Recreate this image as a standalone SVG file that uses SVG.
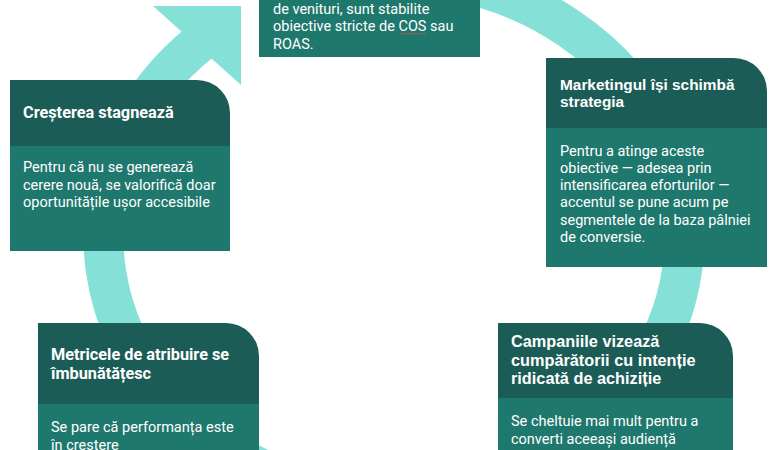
<svg xmlns="http://www.w3.org/2000/svg" width="779" height="450" viewBox="0 0 779 450">
<style>
.hd{fill:#1c5c56}
.bd{fill:#1f786d}
.t{fill:#ffffff;font-family:Roboto,"Liberation Sans",sans-serif;font-weight:700;font-size:16.3px}
.ta{fill:#ffffff;font-family:"Liberation Sans",Arial,sans-serif;font-weight:700}
.b{fill:#ffffff;font-family:Roboto,"Liberation Sans",sans-serif;font-size:14.5px}
.ring{fill:none;stroke:#85e1d7;stroke-width:40}
</style>
<rect width="779" height="450" fill="#ffffff"/>
<g id="connectors">
<path class="ring" d="M300,-10.4 A290.5,261 0 1 1 201.7,40.9"/>
<polygon points="241,6 153,6 241,85" fill="#85e1d7"/>
</g>
<g id="node-obiective">
<rect class="bd" x="259" y="-20" width="221" height="77"/>
<text class="b" x="273"><tspan x="273" y="13.5">de venituri, sunt stabilite</tspan><tspan x="273" y="31">obiective stricte de COS sau</tspan><tspan x="273" y="48.5">ROAS.</tspan></text>
<path d="M400,33 l1.6,1.4 l1.6,-1.4 l1.6,1.4 l1.6,-1.4 l1.6,1.4 l1.6,-1.4 l1.6,1.4 l1.6,-1.4 l1.6,1.4 l1.6,-1.4 l1.6,1.4 l1.6,-1.4 l1.6,1.4 l1.6,-1.4 l1.6,1.4 l1.6,-1.4" fill="none" stroke="#d9534f" stroke-width="0.8"/>
</g>
<g id="node-crestere">
<path class="hd" d="M10,80 H197 A33,33 0 0 1 230,113 V146 H10 Z"/>
<rect class="bd" x="10" y="146" width="220" height="105"/>
<text class="t" x="23" y="118">Creșterea stagnează</text>
<text class="b"><tspan x="23" y="172">Pentru că nu se generează</tspan><tspan x="23" y="189.5">cerere nouă, se valorifică doar</tspan><tspan x="23" y="207">oportunitățile ușor accesibile</tspan></text>
</g>
<g id="node-marketing">
<path class="hd" d="M546,58 H734 A33,33 0 0 1 767,91 V128 H546 Z"/>
<rect class="bd" x="546" y="128" width="221" height="139"/>
<text class="ta" font-size="15.4"><tspan x="560" y="90">Marketingul își schimbă</tspan><tspan x="560" y="107.3">strategia</tspan></text>
<text class="b"><tspan x="560" y="155.5">Pentru a atinge aceste</tspan><tspan x="560" y="172.8">obiective — adesea prin</tspan><tspan x="560" y="190.1">intensificarea eforturilor —</tspan><tspan x="560" y="207.4">accentul se pune acum pe</tspan><tspan x="560" y="224.7">segmentele de la baza pâlniei</tspan><tspan x="560" y="242">de conversie.</tspan></text>
</g>
<g id="node-campanii">
<path class="hd" d="M498,323 H700 A33,33 0 0 1 733,356 V398 H498 Z"/>
<rect class="bd" x="498" y="398" width="235" height="60"/>
<text class="ta" font-size="16.3"><tspan x="511" y="347.3">Campaniile vizează</tspan><tspan x="511" y="365.6">cumpărătorii cu intenție</tspan><tspan x="511" y="384">ridicată de achiziție</tspan></text>
<text class="b"><tspan x="511" y="426">Se cheltuie mai mult pentru a</tspan><tspan x="511" y="444">converti aceeași audiență</tspan></text>
</g>
<g id="node-metrici">
<path class="hd" d="M38,323 H226 A33,33 0 0 1 259,356 V404 H38 Z"/>
<rect class="bd" x="38" y="404" width="221" height="56"/>
<text class="t"><tspan x="51" y="360">Metricele de atribuire se</tspan><tspan x="51" y="379">îmbunătățesc</tspan></text>
<text class="b"><tspan x="51" y="432">Se pare că performanța este</tspan><tspan x="51" y="449.5">în creștere</tspan></text>
</g>
</svg>
